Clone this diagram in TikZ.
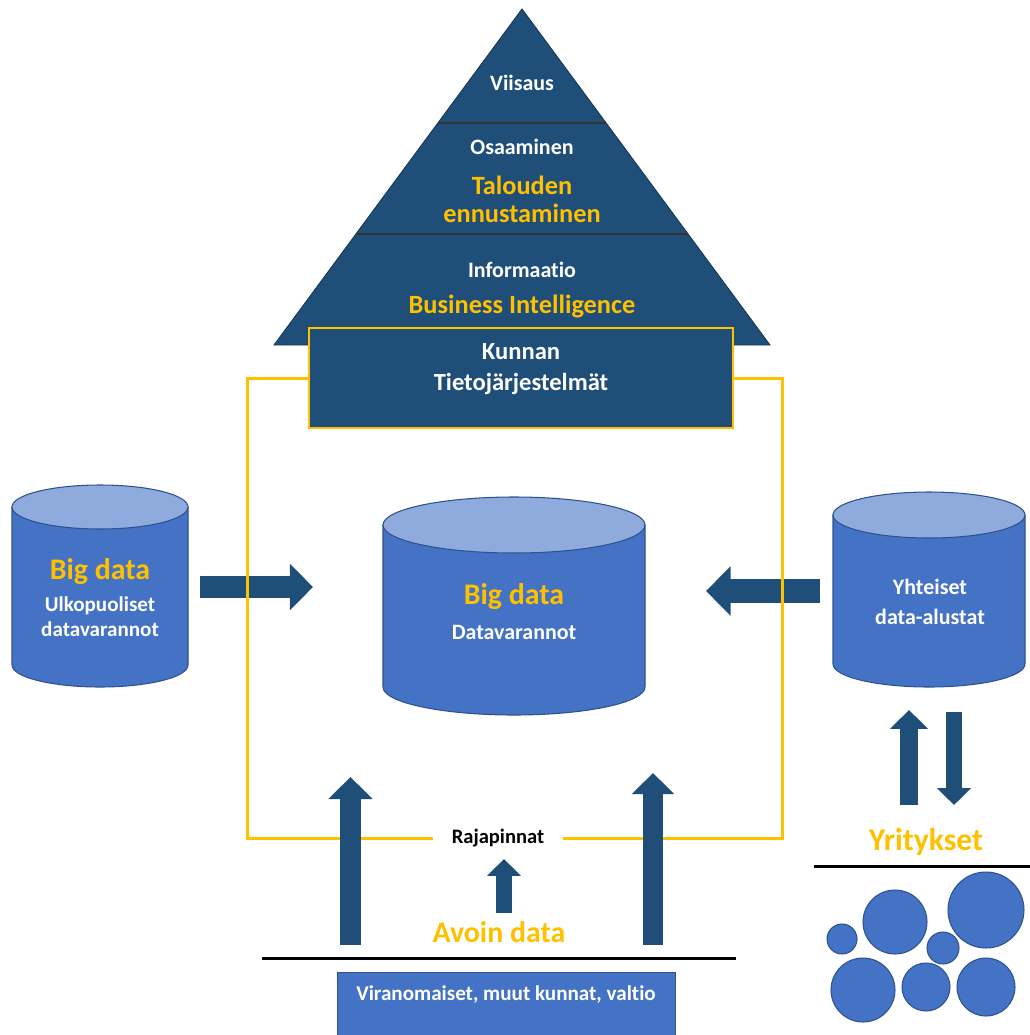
\documentclass[tikz,border=0pt]{standalone}
\usepackage{fontspec}
\setmainfont{Carlito}[Ligatures=NoCommon]
\usepackage{tikz}
\usetikzlibrary{arrows.meta, positioning}

\definecolor{pyrblue}{RGB}{31,78,121}
\definecolor{cylblue}{RGB}{68,114,196}
\definecolor{cyltop}{RGB}{143,170,220}
\definecolor{cyledge}{RGB}{47,82,143}
\definecolor{gold}{RGB}{255,192,0}

\tikzset{
  whitetxt/.style={text=white, font=\bfseries\fontsize{12.5}{15}\selectfont, align=center},
  goldtxt/.style={text=gold, font=\bfseries\fontsize{15}{16}\selectfont, align=center},
  frame/.style={draw=gold, line width=0.06cm},
  fatarrow/.style={line width=#1, draw=pyrblue, -{Triangle[length=0pt 1.05, width=0pt 2.05]}},
  firm/.style={circle, fill=cylblue, draw=cyledge, line width=0.6pt, inner sep=0pt},
}

\begin{document}
\begin{tikzpicture}[x=0.02cm, y=0.02cm]
  \useasboundingbox (0,0) rectangle (1030,-1035);

  % Pyramid
  \filldraw[fill=pyrblue, draw=pyrblue!70!black, line width=0.5pt] (522,-9) -- (274,-345) -- (770,-345) -- cycle;
  \draw[black!80, line width=0.7pt] (438,-123) -- (606,-123);
  \draw[black!80, line width=0.7pt] (356,-234) -- (688,-234);
  \node[whitetxt] (viisaus) at (522,-83) {Viisaus};
  \node[whitetxt] (osaaminen) at (522,-147) {Osaaminen};
  \node[goldtxt] (ennuste) at (522,-199) {Talouden\\ennustaminen};
  \node[whitetxt] (informaatio) at (522,-270) {Informaatio};
  \node[goldtxt] (bi) at (522,-306) {Business Intelligence};

  % Kunnan tietojarjestelmat
  \node[draw=gold, fill=pyrblue, line width=0.04cm, minimum width=8.48cm, minimum height=2cm] (kunta) at (521,-378) {};
  \node[whitetxt, font=\bfseries\fontsize{14}{18}\selectfont] (kuntatxt) at (521,-369) {Kunnan\\Tietojärjestelmät};

  % Cylinders
  \filldraw[fill=cylblue, draw=cyledge, line width=0.6pt] (12,-507) -- (12,-665) arc (180:360:88 and 22) -- (188,-507) -- cycle;
  \filldraw[fill=cyltop, draw=cyledge, line width=0.6pt] (100,-507) ellipse (88 and 22);
  \filldraw[fill=cylblue, draw=cyledge, line width=0.6pt] (383,-525) -- (383,-687) arc (180:360:131 and 28) -- (645,-525) -- cycle;
  \filldraw[fill=cyltop, draw=cyledge, line width=0.6pt] (514,-525) ellipse (131 and 28);
  \filldraw[fill=cylblue, draw=cyledge, line width=0.6pt] (833,-515) -- (833,-664) arc (180:360:96 and 23) -- (1025,-515) -- cycle;
  \filldraw[fill=cyltop, draw=cyledge, line width=0.6pt] (929,-515) ellipse (96 and 23);

  \node[goldtxt, font=\bfseries\fontsize{17}{18}\selectfont] (extbig) at (100,-572) {Big data};
  \node[whitetxt, font=\bfseries\fontsize{12}{14.2}\selectfont] (ext) at (100,-617) {Ulkopuoliset\\datavarannot};
  \node[goldtxt, font=\bfseries\fontsize{17}{18}\selectfont] (bigdata) at (514,-597) {Big data};
  \node[whitetxt] (varannot) at (514,-632) {Datavarannot};
  \node[whitetxt, font=\bfseries\fontsize{12.5}{17}\selectfont] (shared) at (930,-602) {Yhteiset\\data-alustat};

  % Arrows into the data store
  \coordinate (a1s) at (200,-587);
  \coordinate (a1e) at (313,-587);
  \coordinate (a2s) at (820,-591);
  \coordinate (a2e) at (706,-591);
  \draw[fatarrow=0.44cm] (a1s) -- (a1e);
  \draw[fatarrow=0.47cm] (a2s) -- (a2e);

  % Interfaces frame
  \node[text=black, font=\bfseries\fontsize{11.7}{14}\selectfont, inner xsep=0.36cm] (raja) at (498,-838) {Rajapinnat};
  \draw[frame] (kunta.west) -| (247,-838) -- (raja.west);
  \draw[frame] (raja.east) -- (782,-838) |- (kunta.east);

  % Open data
  \node[goldtxt, font=\bfseries\fontsize{17}{18}\selectfont] (avoin) at (499,-932) {Avoin data};
  \coordinate (u1s) at (350.5,-945);
  \coordinate (u1e) at (350.5,-777);
  \coordinate (u2s) at (653,-945);
  \coordinate (u2e) at (653,-773);
  \coordinate (u3s) at (504,-913);
  \coordinate (u3e) at (504,-859);
  \draw[fatarrow=0.42cm] (u1s) -- (u1e);
  \draw[fatarrow=0.40cm] (u2s) -- (u2e);
  \draw[fatarrow=0.32cm] (u3s) -- (u3e);

  \draw[black, line width=0.06cm] (262,-958) -- (736,-958);
  \node[fill=cylblue, draw=cyledge, line width=0.6pt, minimum width=6.76cm, minimum height=1.4cm, anchor=north west] (viranomaiset) at (337,-972) {};
  \node[whitetxt, font=\bfseries\fontsize{12}{14}\selectfont] (virantxt) at (506,-995) {Viranomaiset, muut kunnat, valtio};

  % Companies
  \coordinate (f1s) at (909,-805);
  \coordinate (f1e) at (909,-710);
  \coordinate (f2s) at (954,-712);
  \coordinate (f2e) at (954,-805);
  \draw[fatarrow=0.36cm] (f1s) -- (f1e);
  \draw[fatarrow=0.32cm] (f2s) -- (f2e);
  \node[goldtxt, font=\bfseries\fontsize{18}{20}\selectfont] (yritykset) at (926,-842) {Yritykset};
  \draw[black, line width=0.06cm] (814,-866) -- (1030,-866);

  \node[firm, minimum size=0.60cm] (c1) at (842,-939) {};
  \node[firm, minimum size=1.28cm] (c2) at (895,-922) {};
  \node[firm, minimum size=0.64cm] (c3) at (943,-948) {};
  \node[firm, minimum size=1.52cm] (c4) at (986,-910) {};
  \node[firm, minimum size=1.28cm] (c5) at (863,-990) {};
  \node[firm, minimum size=0.96cm] (c6) at (926,-987) {};
  \node[firm, minimum size=1.16cm] (c7) at (986,-987) {};
\end{tikzpicture}
\end{document}
